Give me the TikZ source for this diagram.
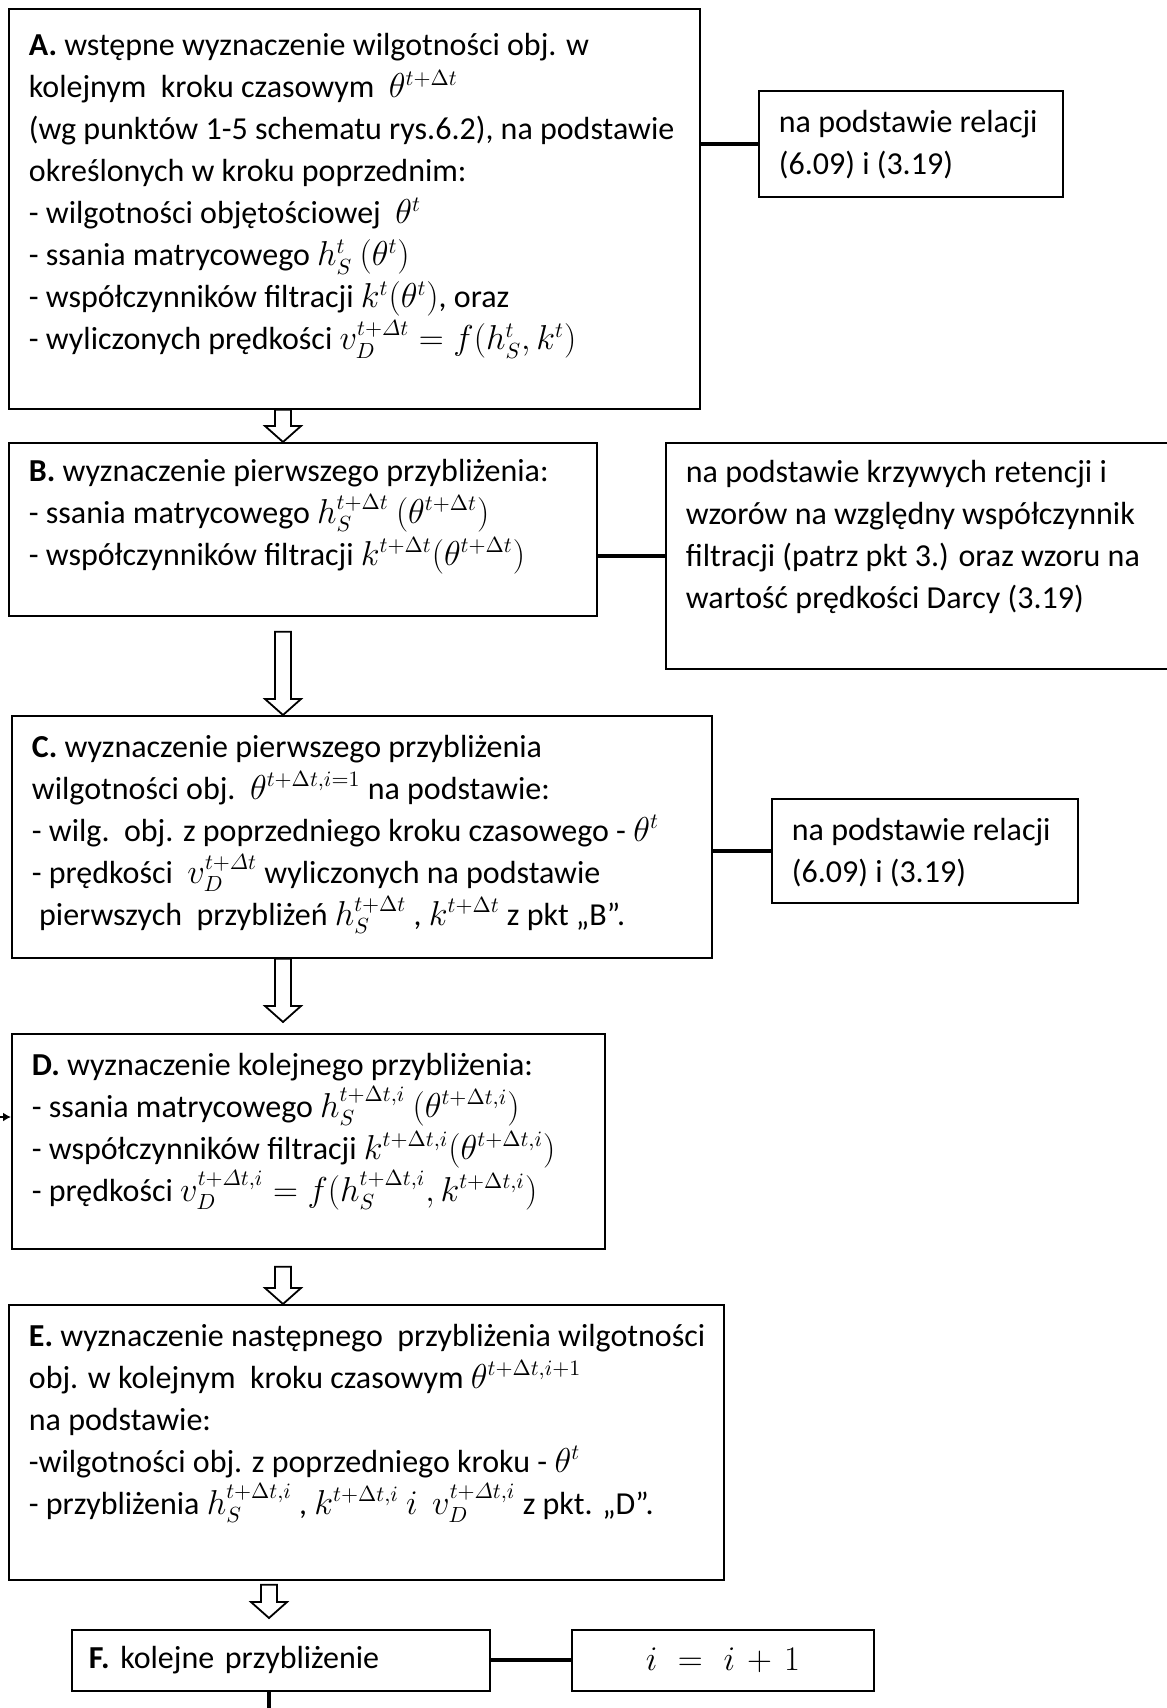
\documentclass[tikz,border=0pt]{standalone}
\usepackage{amsmath}
\usepackage{fontspec}
\setmainfont{Carlito}
\usetikzlibrary{calc,arrows.meta}
\newcommand{\boxtxt}[4][0pt]{\makebox[#2][l]{\parbox[t][#3][t]{\dimexpr#2+60pt\relax}{\raggedright\rule{0pt}{\dimexpr14.7pt+#1\relax}#4}}}
\newcommand{\fatarrow}[2]{\draw[fatline] ($(#1)+(-8,0)$) -- ($(#2)+(-8,-16)$) -- ($(#2)+(-18,-16)$) -- (#2) -- ($(#2)+(18,-16)$) -- ($(#2)+(8,-16)$) -- ($(#1)+(8,0)$) -- cycle;}

\begin{document}
\begin{tikzpicture}[x=0.5pt,y=-0.5pt,
  font=\fontsize{16}{21}\selectfont,
  stepbox/.style={draw,line width=0.9pt,anchor=north west,inner xsep=10pt,inner ysep=6pt},
  rowbox/.style={draw,line width=0.9pt,anchor=north west,minimum height=30.5pt,inner ysep=0pt},
  link/.style={line width=2pt},
  fatline/.style={line width=0.9pt,fill=white}]
\useasboundingbox (0,0) rectangle (1167,1708);

\node[stepbox] (A) at (8,8) {\boxtxt[2.7pt]{325.5pt}{188pt}{\textbf{A.} wstępne wyznaczenie wilgotności obj. w\\
kolejnym\ \ kroku czasowym\ \ $\theta^{t+\Delta t}$\\
(wg punktów 1-5 schematu rys.6.2), na podstawie\\
określonych w kroku poprzednim:\\
- wilgotności objętościowej\ \ $\theta^t$\\
- ssania matrycowego $h^t_S$ $(\theta^t)$\\
- współczynników filtracji $k^t(\theta^t)$, oraz\\
- wyliczonych prędkości $v_D^{t+\varDelta t}=f(h^t_S,k^t)$}};
\node[stepbox] (As) at (758,90) {\boxtxt{132pt}{41pt}{na podstawie relacji\\
(6.09) i (3.19)}};

\node[stepbox] (B) at (8,442) {\boxtxt[-1.6pt]{274pt}{74.5pt}{\textbf{B.} wyznaczenie pierwszego przybliżenia:\\
- ssania matrycowego $h_S^{t+\Delta t}$ $(\theta^{t+\Delta t})$\\
- współczynników filtracji $k^{t+\Delta t}(\theta^{t+\Delta t})$}};
\node[stepbox] (Bs) at (665,442) {\boxtxt[-1pt]{242.5pt}{101pt}{na podstawie krzywych retencji i\\
wzorów na względny współczynnik\\
filtracji (patrz pkt 3.) oraz wzoru na\\
wartość prędkości Darcy (3.19)}};

\node[stepbox] (C) at (11,715) {\boxtxt{330pt}{109pt}{\textbf{C.} wyznaczenie pierwszego przybliżenia\\
wilgotności obj.\ \ $\theta^{t+\Delta t,i=1}$ na podstawie:\\
- wilg.\ \ obj. z poprzedniego kroku czasowego - $\theta^t$\\
- prędkości\ \ $v_D^{t+\varDelta t}$ wyliczonych na podstawie\\
\ pierwszych\ \ przybliżeń $h_S^{t+\Delta t}$ , $k^{t+\Delta t}$ z pkt „B”.}};
\node[stepbox] (Cs) at (771,798) {\boxtxt{133pt}{40pt}{na podstawie relacji\\
(6.09) i (3.19)}};

\node[stepbox] (D) at (11,1033) {\boxtxt{276.5pt}{95.5pt}{\textbf{D.} wyznaczenie kolejnego przybliżenia:\\
- ssania matrycowego $h_S^{t+\Delta t,i}$ $(\theta^{t+\Delta t,i})$\\
- współczynników filtracji $k^{t+\Delta t,i}(\theta^{t+\Delta t,i})$\\
- prędkości $v_D^{t+\varDelta t,i}=f(h_S^{t+\Delta t,i},k^{t+\Delta t,i})$}};

\node[stepbox] (E) at (8,1304) {\boxtxt{337.5pt}{125.5pt}{\textbf{E.} wyznaczenie następnego\ \ przybliżenia wilgotności\\
obj. w kolejnym\ \ kroku czasowym $\theta^{t+\Delta t,i+1}$\\
na podstawie:\\
-wilgotności obj. z poprzedniego kroku - $\theta^t$\\
- przybliżenia $h_S^{t+\Delta t,i}$ , $k^{t+\Delta t,i}$ $i$\ \ $v_D^{t+\varDelta t,i}$ z pkt. „D”.}};

\node[rowbox,inner xsep=8.5pt,text width=192pt,align=left] (F) at (71,1629) {\textbf{F.} kolejne przybliżenie};
\node[rowbox,inner xsep=0pt,text width=151pt,align=center] (Fs) at (571,1629) {$i=i+1$};

\draw[link] (As.west) -- (As.west -| A.east);
\draw[link] (Bs.west) -- (Bs.west -| B.east);
\draw[link] (Cs.west) -- (Cs.west -| C.east);
\draw[link] (Fs.west) -- (F.east);

\coordinate (axis) at (283,0);
\coordinate (axisF) at (269,0);
\coordinate (bc) at ($(B.south -| axis)+(0,15)$);
\coordinate (cd) at ($(D.north -| axis)+(0,-11)$);
\coordinate (de) at ($(D.south -| axis)+(0,17)$);
\coordinate (ef) at ($(E.south -| axisF)+(0,4)$);
\coordinate (fin) at ($(F.north -| axisF)+(0,-11)$);
\fatarrow{A.south -| axis}{B.north -| axis}
\fatarrow{bc}{C.north -| axis}
\fatarrow{C.south -| axis}{cd}
\fatarrow{de}{E.north -| axis}
\fatarrow{ef}{fin}

\coordinate (loopdown) at ($(F.south -| axisF)+(0,40)$);
\draw[link] (F.south -| axisF) -- (loopdown);
\coordinate (loopback) at (-20,1117);
\draw[line width=1pt,-{Latex[length=4pt,width=4.5pt]}] (loopback) -- (loopback -| D.west);
\end{tikzpicture}
\end{document}
